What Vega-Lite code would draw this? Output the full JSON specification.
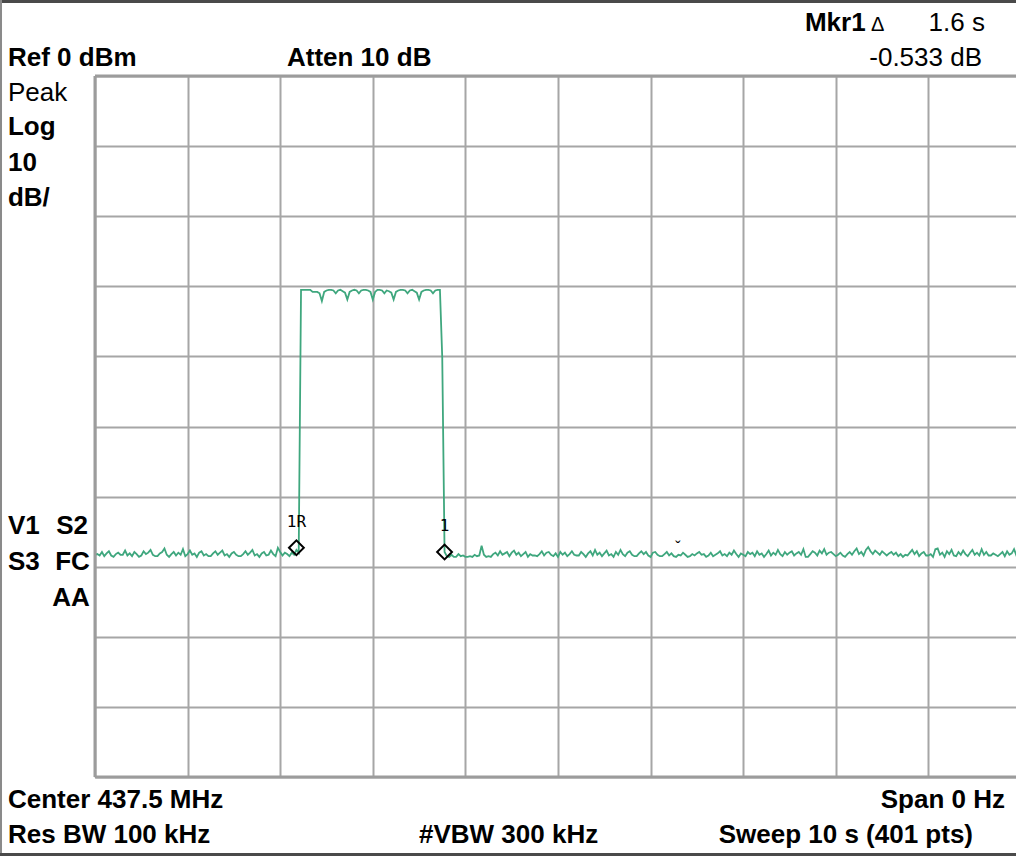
{
  "$schema": "https://vega.github.io/schema/vega-lite/v6.json",
  "width": 921,
  "height": 701,
  "autosize": {"type": "none"},
  "padding": {"left": 95, "top": 76, "right": 0, "bottom": 79},
  "background": "white",
  "config": {
    "view": {"stroke": null},
    "text": {"font": "Liberation Sans", "color": "#000000"}
  },
  "data": {"values": [{}]},
  "datasets": {
    "trace": [
      {"t":0,"v":-68.3},{"t":0.025,"v":-68.2},{"t":0.05,"v":-68.4},{"t":0.075,"v":-67.9},{"t":0.1,"v":-68.5},{"t":0.125,"v":-68.1},{"t":0.15,"v":-67.8},{"t":0.175,"v":-68.4},{"t":0.2,"v":-68.6},{"t":0.225,"v":-68.2},
      {"t":0.25,"v":-68.0},{"t":0.275,"v":-68.3},{"t":0.3,"v":-68.3},{"t":0.325,"v":-67.7},{"t":0.35,"v":-68.4},{"t":0.375,"v":-68.1},{"t":0.4,"v":-68.5},{"t":0.425,"v":-67.9},{"t":0.45,"v":-68.2},{"t":0.475,"v":-68.6},
      {"t":0.5,"v":-68.4},{"t":0.525,"v":-67.8},{"t":0.55,"v":-68.2},{"t":0.575,"v":-68.0},{"t":0.6,"v":-67.6},{"t":0.625,"v":-68.3},{"t":0.65,"v":-68.5},{"t":0.675,"v":-68.5},{"t":0.7,"v":-68.1},{"t":0.725,"v":-67.9},
      {"t":0.75,"v":-67.4},{"t":0.775,"v":-68.3},{"t":0.8,"v":-68.6},{"t":0.825,"v":-68.2},{"t":0.85,"v":-67.9},{"t":0.875,"v":-68.4},{"t":0.9,"v":-68.0},{"t":0.925,"v":-68.3},{"t":0.95,"v":-67.5},{"t":0.975,"v":-68.5},
      {"t":1,"v":-68.2},{"t":1.025,"v":-67.7},{"t":1.05,"v":-68.3},{"t":1.075,"v":-68.1},{"t":1.1,"v":-68.6},{"t":1.125,"v":-68.0},{"t":1.15,"v":-67.8},{"t":1.175,"v":-68.4},{"t":1.2,"v":-68.2},{"t":1.225,"v":-68.5},
      {"t":1.25,"v":-68.5},{"t":1.275,"v":-68.1},{"t":1.3,"v":-67.8},{"t":1.325,"v":-68.3},{"t":1.35,"v":-68.0},{"t":1.375,"v":-67.7},{"t":1.4,"v":-68.4},{"t":1.425,"v":-68.2},{"t":1.45,"v":-68.6},{"t":1.475,"v":-68.1},
      {"t":1.5,"v":-67.9},{"t":1.525,"v":-68.3},{"t":1.55,"v":-68.5},{"t":1.575,"v":-68.5},{"t":1.6,"v":-68.2},{"t":1.625,"v":-67.8},{"t":1.65,"v":-68.3},{"t":1.675,"v":-68.0},{"t":1.7,"v":-67.6},{"t":1.725,"v":-68.4},
      {"t":1.75,"v":-68.2},{"t":1.775,"v":-68.6},{"t":1.8,"v":-68.1},{"t":1.825,"v":-67.9},{"t":1.85,"v":-68.4},{"t":1.875,"v":-68.3},{"t":1.9,"v":-67.7},{"t":1.925,"v":-68.2},{"t":1.95,"v":-68.5},{"t":1.975,"v":-67.3},
      {"t":2,"v":-67.9},{"t":2.025,"v":-68.4},{"t":2.05,"v":-68.0},{"t":2.075,"v":-68.2},{"t":2.1,"v":-68.5},{"t":2.125,"v":-68.0},{"t":2.15,"v":-68.3},{"t":2.175,"v":-67.6},{"t":2.2,"v":-68.0},
      {"t":2.225,"v":-30.5},{"t":2.25,"v":-30.5},{"t":2.275,"v":-30.5},{"t":2.3,"v":-30.5},{"t":2.325,"v":-30.5},{"t":2.35,"v":-30.8},{"t":2.375,"v":-30.8},{"t":2.4,"v":-30.8},{"t":2.425,"v":-31.0},{"t":2.45,"v":-32.1},
      {"t":2.475,"v":-30.8},{"t":2.5,"v":-30.6},{"t":2.525,"v":-30.5},{"t":2.55,"v":-30.5},{"t":2.575,"v":-30.6},{"t":2.6,"v":-31.0},{"t":2.625,"v":-30.6},{"t":2.65,"v":-30.5},{"t":2.675,"v":-30.7},{"t":2.7,"v":-30.9},
      {"t":2.725,"v":-31.9},{"t":2.75,"v":-30.8},{"t":2.775,"v":-30.6},{"t":2.8,"v":-30.5},{"t":2.825,"v":-30.6},{"t":2.85,"v":-31.0},{"t":2.875,"v":-30.6},{"t":2.9,"v":-30.5},{"t":2.925,"v":-30.5},{"t":2.95,"v":-30.6},
      {"t":2.975,"v":-30.8},{"t":3,"v":-31.9},{"t":3.025,"v":-30.8},{"t":3.05,"v":-30.5},{"t":3.075,"v":-30.5},{"t":3.1,"v":-30.6},{"t":3.125,"v":-31.0},{"t":3.15,"v":-30.6},{"t":3.175,"v":-30.7},{"t":3.2,"v":-30.9},
      {"t":3.225,"v":-31.9},{"t":3.25,"v":-30.8},{"t":3.275,"v":-30.6},{"t":3.3,"v":-30.5},{"t":3.325,"v":-30.5},{"t":3.35,"v":-30.6},{"t":3.375,"v":-31.0},{"t":3.4,"v":-30.6},{"t":3.425,"v":-30.5},{"t":3.45,"v":-30.7},
      {"t":3.475,"v":-30.9},{"t":3.5,"v":-31.9},{"t":3.525,"v":-30.8},{"t":3.55,"v":-30.6},{"t":3.575,"v":-30.5},{"t":3.6,"v":-30.5},{"t":3.625,"v":-30.6},{"t":3.65,"v":-31.0},{"t":3.675,"v":-30.6},{"t":3.7,"v":-30.5},
      {"t":3.725,"v":-30.5},{"t":3.75,"v":-40.2},{"t":3.775,"v":-67.9},{"t":3.8,"v":-68.5},{"t":3.825,"v":-68.6},{"t":3.85,"v":-68.3},{"t":3.875,"v":-68.6},{"t":3.9,"v":-68.6},{"t":3.925,"v":-68.2},{"t":3.95,"v":-68.5},
      {"t":3.975,"v":-68.4},{"t":4,"v":-68.6},{"t":4.025,"v":-68.6},{"t":4.05,"v":-68.5},{"t":4.075,"v":-68.6},{"t":4.1,"v":-68.3},{"t":4.125,"v":-68.5},{"t":4.15,"v":-68.4},{"t":4.175,"v":-67.0},{"t":4.2,"v":-68.3},
      {"t":4.225,"v":-68.6},{"t":4.25,"v":-68.5},{"t":4.275,"v":-68.6},{"t":4.3,"v":-68.2},{"t":4.325,"v":-68.0},{"t":4.35,"v":-68.4},{"t":4.375,"v":-67.8},{"t":4.4,"v":-68.3},{"t":4.425,"v":-68.1},{"t":4.45,"v":-67.9},
      {"t":4.475,"v":-68.5},{"t":4.5,"v":-68.0},{"t":4.525,"v":-67.7},{"t":4.55,"v":-68.3},{"t":4.575,"v":-68.0},{"t":4.6,"v":-68.5},{"t":4.625,"v":-68.2},{"t":4.65,"v":-67.9},{"t":4.675,"v":-68.6},{"t":4.7,"v":-68.2},
      {"t":4.725,"v":-68.4},{"t":4.75,"v":-68.4},{"t":4.775,"v":-68.5},{"t":4.8,"v":-68.2},{"t":4.825,"v":-67.8},{"t":4.85,"v":-68.4},{"t":4.875,"v":-68.0},{"t":4.9,"v":-67.9},{"t":4.925,"v":-68.3},{"t":4.95,"v":-68.5},
      {"t":4.975,"v":-68.1},{"t":5,"v":-68.6},{"t":5.025,"v":-67.9},{"t":5.05,"v":-68.3},{"t":5.075,"v":-68.0},{"t":5.1,"v":-68.5},{"t":5.125,"v":-68.2},{"t":5.15,"v":-67.8},{"t":5.175,"v":-68.3},{"t":5.2,"v":-68.4},
      {"t":5.225,"v":-68.4},{"t":5.25,"v":-67.9},{"t":5.275,"v":-68.2},{"t":5.3,"v":-68.6},{"t":5.325,"v":-68.1},{"t":5.35,"v":-67.8},{"t":5.375,"v":-68.4},{"t":5.4,"v":-67.6},{"t":5.425,"v":-68.3},{"t":5.45,"v":-68.0},
      {"t":5.475,"v":-68.5},{"t":5.5,"v":-68.1},{"t":5.525,"v":-67.7},{"t":5.55,"v":-68.4},{"t":5.575,"v":-68.2},{"t":5.6,"v":-68.6},{"t":5.625,"v":-67.9},{"t":5.65,"v":-68.3},{"t":5.675,"v":-67.6},{"t":5.7,"v":-68.2},
      {"t":5.725,"v":-68.5},{"t":5.75,"v":-68.0},{"t":5.775,"v":-67.8},{"t":5.8,"v":-68.3},{"t":5.825,"v":-68.5},{"t":5.85,"v":-68.5},{"t":5.875,"v":-68.1},{"t":5.9,"v":-67.8},{"t":5.925,"v":-68.2},{"t":5.95,"v":-67.9},
      {"t":5.975,"v":-68.4},{"t":6,"v":-68.6},{"t":6.025,"v":-68.0},{"t":6.05,"v":-67.9},{"t":6.075,"v":-68.3},{"t":6.1,"v":-68.5},{"t":6.125,"v":-68.5},{"t":6.15,"v":-68.2},{"t":6.175,"v":-67.9},{"t":6.2,"v":-68.4},
      {"t":6.225,"v":-68.1},{"t":6.25,"v":-68.5},{"t":6.275,"v":-68.6},{"t":6.3,"v":-68.3},{"t":6.325,"v":-68.4},{"t":6.35,"v":-68.0},{"t":6.375,"v":-68.3},{"t":6.4,"v":-68.6},{"t":6.425,"v":-68.5},{"t":6.45,"v":-68.2},
      {"t":6.475,"v":-68.4},{"t":6.5,"v":-68.1},{"t":6.525,"v":-67.9},{"t":6.55,"v":-68.3},{"t":6.575,"v":-68.2},{"t":6.6,"v":-68.6},{"t":6.625,"v":-68.4},{"t":6.65,"v":-68.0},{"t":6.675,"v":-68.5},{"t":6.7,"v":-68.3},
      {"t":6.725,"v":-68.1},{"t":6.75,"v":-67.8},{"t":6.775,"v":-68.4},{"t":6.8,"v":-68.2},{"t":6.825,"v":-68.5},{"t":6.85,"v":-68.0},{"t":6.875,"v":-68.3},{"t":6.9,"v":-67.7},{"t":6.925,"v":-68.2},{"t":6.95,"v":-68.6},
      {"t":6.975,"v":-68.1},{"t":7,"v":-68.3},{"t":7.025,"v":-68.5},{"t":7.05,"v":-67.9},{"t":7.075,"v":-68.2},{"t":7.1,"v":-68.0},{"t":7.125,"v":-68.5},{"t":7.15,"v":-67.8},{"t":7.175,"v":-68.3},{"t":7.2,"v":-68.1},
      {"t":7.225,"v":-68.6},{"t":7.25,"v":-68.2},{"t":7.275,"v":-67.7},{"t":7.3,"v":-68.4},{"t":7.325,"v":-68.0},{"t":7.35,"v":-68.3},{"t":7.375,"v":-67.6},{"t":7.4,"v":-68.2},{"t":7.425,"v":-68.5},{"t":7.45,"v":-67.9},
      {"t":7.475,"v":-68.3},{"t":7.5,"v":-68.0},{"t":7.525,"v":-67.8},{"t":7.55,"v":-68.4},{"t":7.575,"v":-68.1},{"t":7.6,"v":-67.9},{"t":7.625,"v":-68.3},{"t":7.65,"v":-67.5},{"t":7.675,"v":-68.6},{"t":7.7,"v":-68.6},
      {"t":7.725,"v":-68.2},{"t":7.75,"v":-67.8},{"t":7.775,"v":-68.0},{"t":7.8,"v":-68.4},{"t":7.825,"v":-67.7},{"t":7.85,"v":-68.1},{"t":7.875,"v":-67.5},{"t":7.9,"v":-68.3},{"t":7.925,"v":-68.0},{"t":7.95,"v":-67.9},
      {"t":7.975,"v":-68.2},{"t":8,"v":-68.5},{"t":8.025,"v":-68.3},{"t":8.05,"v":-68.0},{"t":8.075,"v":-68.4},{"t":8.1,"v":-68.6},{"t":8.125,"v":-68.2},{"t":8.15,"v":-67.9},{"t":8.175,"v":-68.3},{"t":8.2,"v":-67.8},
      {"t":8.225,"v":-67.4},{"t":8.25,"v":-68.2},{"t":8.275,"v":-67.9},{"t":8.3,"v":-68.4},{"t":8.325,"v":-67.6},{"t":8.35,"v":-67.2},{"t":8.375,"v":-67.8},{"t":8.4,"v":-68.2},{"t":8.425,"v":-67.7},{"t":8.45,"v":-68.0},
      {"t":8.475,"v":-68.3},{"t":8.5,"v":-67.8},{"t":8.525,"v":-68.1},{"t":8.55,"v":-68.4},{"t":8.575,"v":-68.1},{"t":8.6,"v":-67.9},{"t":8.625,"v":-68.3},{"t":8.65,"v":-68.0},{"t":8.675,"v":-68.5},{"t":8.7,"v":-68.2},
      {"t":8.725,"v":-68.6},{"t":8.75,"v":-68.3},{"t":8.775,"v":-68.4},{"t":8.8,"v":-68.0},{"t":8.825,"v":-67.6},{"t":8.85,"v":-68.2},{"t":8.875,"v":-67.8},{"t":8.9,"v":-68.5},{"t":8.925,"v":-68.1},{"t":8.95,"v":-67.9},
      {"t":8.975,"v":-68.4},{"t":9,"v":-68.4},{"t":9.025,"v":-68.2},{"t":9.05,"v":-68.6},{"t":9.075,"v":-67.5},{"t":9.1,"v":-67.4},{"t":9.125,"v":-68.3},{"t":9.15,"v":-68.0},{"t":9.175,"v":-68.6},{"t":9.2,"v":-67.8},
      {"t":9.225,"v":-68.2},{"t":9.25,"v":-67.6},{"t":9.275,"v":-68.4},{"t":9.3,"v":-68.5},{"t":9.325,"v":-67.9},{"t":9.35,"v":-68.3},{"t":9.375,"v":-67.7},{"t":9.4,"v":-68.2},{"t":9.425,"v":-68.5},{"t":9.45,"v":-68.0},
      {"t":9.475,"v":-67.6},{"t":9.5,"v":-68.3},{"t":9.525,"v":-68.0},{"t":9.55,"v":-68.4},{"t":9.575,"v":-67.5},{"t":9.6,"v":-68.3},{"t":9.625,"v":-67.9},{"t":9.65,"v":-68.4},{"t":9.675,"v":-68.4},{"t":9.7,"v":-68.1},
      {"t":9.725,"v":-68.3},{"t":9.75,"v":-68.5},{"t":9.775,"v":-68.2},{"t":9.8,"v":-67.9},{"t":9.825,"v":-68.5},{"t":9.85,"v":-67.8},{"t":9.875,"v":-68.3},{"t":9.9,"v":-68.1},{"t":9.925,"v":-67.5},{"t":9.95,"v":-68.4},
      {"t":9.975,"v":-68.2},{"t":10,"v":-68.0}
    ],
    "markers": [
      {"t": 2.175, "v": -67.3, "label": "1R"},
      {"t": 3.775, "v": -67.9, "label": "1"}
    ]
  },
  "layer": [
    {
      "data": {"name": "trace"},
      "mark": {"type": "line", "color": "#3fa77e", "strokeWidth": 1.8, "clip": true, "interpolate": "linear"},
      "encoding": {
        "x": {"field": "t", "type": "quantitative",
              "scale": {"domain": [0, 9.946], "nice": false, "zero": false},
              "axis": {"title": null, "values": [0,1,2,3,4,5,6,7,8,9], "grid": true, "gridColor": "#a6a6a6", "gridWidth": 2, "labels": false, "ticks": false, "domain": false}},
        "y": {"field": "v", "type": "quantitative",
              "scale": {"domain": [-100, 0], "nice": false, "zero": false},
              "axis": {"title": null, "values": [-100,-90,-80,-70,-60,-50,-40,-30,-20,-10,0], "grid": true, "gridColor": "#a6a6a6", "gridWidth": 2, "labels": false, "ticks": false, "domain": false}}
      }
    },
    {"mark": {"type": "rule", "color": "#9c9c9c", "strokeWidth": 3}, "encoding": {"x": {"datum": 0, "type": "quantitative"}}},
    {"mark": {"type": "rule", "color": "#9c9c9c", "strokeWidth": 3}, "encoding": {"y": {"datum": 0, "type": "quantitative"}}},
    {"mark": {"type": "rule", "color": "#9c9c9c", "strokeWidth": 3}, "encoding": {"y": {"datum": -100, "type": "quantitative"}}},
    {"mark": {"type": "rule", "color": "#4a4a4a", "strokeWidth": 3},
     "encoding": {"x": {"datum": -1.04, "type": "quantitative"}, "x2": {"datum": 9.95}, "y": {"datum": 10.63, "type": "quantitative"}}},
    {"mark": {"type": "rule", "color": "#8a8a8a", "strokeWidth": 2},
     "encoding": {"x": {"datum": -1.015, "type": "quantitative"}, "y": {"datum": 10.85, "type": "quantitative"}, "y2": {"datum": -111.3}}},
    {"mark": {"type": "rule", "color": "#4a4a4a", "strokeWidth": 3},
     "encoding": {"x": {"datum": -1.04, "type": "quantitative"}, "x2": {"datum": 9.95}, "y": {"datum": -111.05, "type": "quantitative"}}},
    {
      "data": {"name": "markers"},
      "mark": {"type": "point", "shape": "diamond", "filled": false, "stroke": "#000000", "strokeWidth": 2, "size": 220, "opacity": 1},
      "encoding": {"x": {"field": "t", "type": "quantitative"}, "y": {"field": "v", "type": "quantitative"}}
    },
    {
      "data": {"name": "markers"},
      "mark": {"type": "text", "font": "DejaVu Sans Mono", "fontSize": 16, "dy": -26, "align": "center", "baseline": "middle"},
      "encoding": {"x": {"field": "t", "type": "quantitative"}, "y": {"field": "v", "type": "quantitative"}, "text": {"field": "label"}}
    },
    {"mark": {"type": "text", "text": "ˇ", "fontSize": 16, "align": "center", "baseline": "middle"},
     "encoding": {"x": {"datum": 6.296, "type": "quantitative"}, "y": {"datum": -67.3, "type": "quantitative"}}},

    {"mark": {"type": "text", "text": "Ref 0 dBm", "align": "left", "baseline": "alphabetic", "fontSize": 26, "fontWeight": "bold"},
     "encoding": {"x": {"datum": -0.94, "type": "quantitative"}, "y": {"datum": 1.43, "type": "quantitative"}}},
    {"mark": {"type": "text", "text": "Atten 10 dB", "align": "left", "baseline": "alphabetic", "fontSize": 26, "fontWeight": "bold"},
     "encoding": {"x": {"datum": 2.073, "type": "quantitative"}, "y": {"datum": 1.43, "type": "quantitative"}}},
    {"mark": {"type": "text", "text": "Mkr1", "align": "left", "baseline": "alphabetic", "fontSize": 26, "fontWeight": "bold"},
     "encoding": {"x": {"datum": 7.667, "type": "quantitative"}, "y": {"datum": 6.42, "type": "quantitative"}}},
    {"mark": {"type": "text", "text": "Δ", "align": "left", "baseline": "alphabetic", "fontSize": 20},
     "encoding": {"x": {"datum": 8.38, "type": "quantitative"}, "y": {"datum": 6.42, "type": "quantitative"}}},
    {"mark": {"type": "text", "text": "1.6 s", "align": "right", "baseline": "alphabetic", "fontSize": 26},
     "encoding": {"x": {"datum": 9.611, "type": "quantitative"}, "y": {"datum": 6.42, "type": "quantitative"}}},
    {"mark": {"type": "text", "text": "-0.533 dB", "align": "right", "baseline": "alphabetic", "fontSize": 26},
     "encoding": {"x": {"datum": 9.579, "type": "quantitative"}, "y": {"datum": 1.43, "type": "quantitative"}}},
    {"mark": {"type": "text", "text": "Peak", "align": "left", "baseline": "alphabetic", "fontSize": 26},
     "encoding": {"x": {"datum": -0.94, "type": "quantitative"}, "y": {"datum": -3.57, "type": "quantitative"}}},
    {"mark": {"type": "text", "text": "Log", "align": "left", "baseline": "alphabetic", "fontSize": 26, "fontWeight": "bold"},
     "encoding": {"x": {"datum": -0.94, "type": "quantitative"}, "y": {"datum": -8.42, "type": "quantitative"}}},
    {"mark": {"type": "text", "text": "10", "align": "left", "baseline": "alphabetic", "fontSize": 26, "fontWeight": "bold"},
     "encoding": {"x": {"datum": -0.94, "type": "quantitative"}, "y": {"datum": -13.55, "type": "quantitative"}}},
    {"mark": {"type": "text", "text": "dB/", "align": "left", "baseline": "alphabetic", "fontSize": 26, "fontWeight": "bold"},
     "encoding": {"x": {"datum": -0.94, "type": "quantitative"}, "y": {"datum": -18.55, "type": "quantitative"}}},
    {"mark": {"type": "text", "text": "V1", "align": "left", "baseline": "alphabetic", "fontSize": 26, "fontWeight": "bold"},
     "encoding": {"x": {"datum": -0.94, "type": "quantitative"}, "y": {"datum": -65.33, "type": "quantitative"}}},
    {"mark": {"type": "text", "text": "S3", "align": "left", "baseline": "alphabetic", "fontSize": 26, "fontWeight": "bold"},
     "encoding": {"x": {"datum": -0.94, "type": "quantitative"}, "y": {"datum": -70.47, "type": "quantitative"}}},
    {"mark": {"type": "text", "text": "S2", "align": "right", "baseline": "alphabetic", "fontSize": 26, "fontWeight": "bold"},
     "encoding": {"x": {"datum": -0.075, "type": "quantitative"}, "y": {"datum": -65.33, "type": "quantitative"}}},
    {"mark": {"type": "text", "text": "FC", "align": "right", "baseline": "alphabetic", "fontSize": 26, "fontWeight": "bold"},
     "encoding": {"x": {"datum": -0.055, "type": "quantitative"}, "y": {"datum": -70.47, "type": "quantitative"}}},
    {"mark": {"type": "text", "text": "AA", "align": "right", "baseline": "alphabetic", "fontSize": 26, "fontWeight": "bold"},
     "encoding": {"x": {"datum": -0.055, "type": "quantitative"}, "y": {"datum": -75.6, "type": "quantitative"}}},
    {"mark": {"type": "text", "text": "Center 437.5 MHz", "align": "left", "baseline": "alphabetic", "fontSize": 26, "fontWeight": "bold"},
     "encoding": {"x": {"datum": -0.94, "type": "quantitative"}, "y": {"datum": -104.42, "type": "quantitative"}}},
    {"mark": {"type": "text", "text": "Span 0 Hz", "align": "right", "baseline": "alphabetic", "fontSize": 26, "fontWeight": "bold"},
     "encoding": {"x": {"datum": 9.827, "type": "quantitative"}, "y": {"datum": -104.42, "type": "quantitative"}}},
    {"mark": {"type": "text", "text": "Res BW 100 kHz", "align": "left", "baseline": "alphabetic", "fontSize": 26, "fontWeight": "bold"},
     "encoding": {"x": {"datum": -0.94, "type": "quantitative"}, "y": {"datum": -109.41, "type": "quantitative"}}},
    {"mark": {"type": "text", "text": "#VBW 300 kHz", "align": "left", "baseline": "alphabetic", "fontSize": 26, "fontWeight": "bold"},
     "encoding": {"x": {"datum": 3.499, "type": "quantitative"}, "y": {"datum": -109.41, "type": "quantitative"}}},
    {"mark": {"type": "text", "text": "Sweep 10 s (401 pts)", "align": "right", "baseline": "alphabetic", "fontSize": 26, "fontWeight": "bold"},
     "encoding": {"x": {"datum": 9.482, "type": "quantitative"}, "y": {"datum": -109.41, "type": "quantitative"}}}
  ]
}
